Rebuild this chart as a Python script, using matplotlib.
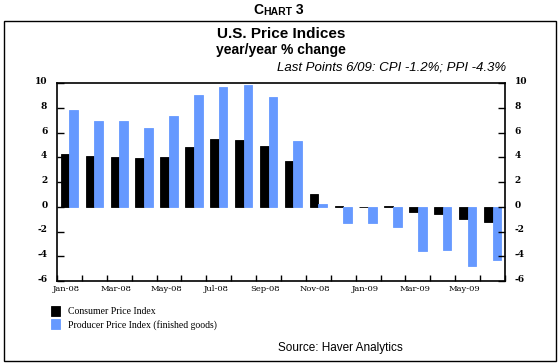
import matplotlib
matplotlib.use("Agg")
import matplotlib.pyplot as plt
import matplotlib.transforms as mtransforms
from matplotlib.patches import Rectangle
import numpy as np

months = ["Jan-08", "Feb-08", "Mar-08", "Apr-08", "May-08", "Jun-08", "Jul-08", "Aug-08",
          "Sep-08", "Oct-08", "Nov-08", "Dec-08", "Jan-09", "Feb-09", "Mar-09", "Apr-09",
          "May-09", "Jun-09"]
cpi = [4.3, 4.1, 4.0, 3.9, 4.0, 4.8, 5.5, 5.4, 4.9, 3.7, 1.0, 0.1, 0.0, 0.1, -0.4, -0.6, -1.0, -1.2]
ppi = [7.8, 6.9, 6.9, 6.4, 7.3, 9.0, 9.7, 9.8, 8.9, 5.3, 0.2, -1.3, -1.3, -1.6, -3.6, -3.5, -4.8, -4.3]
yticks = [-6, -4, -2, 0, 2, 4, 6, 8, 10]
series_names = ["Consumer Price Index", "Producer Price Index (finished goods)"]

W, H = 560, 363
fig = plt.figure(figsize=(W / 100, H / 100), dpi=100)
fig.patch.set_facecolor("white")

def fx(px):
    return px / W

def fy(py):
    return 1 - py / H

# outer box
fig.patches.append(Rectangle((fx(4), fy(361)), fx(556) - fx(4), fy(21) - fy(361),
                             transform=fig.transFigure, fill=False, lw=1.0, ec="black"))

ax = fig.add_axes([fx(57), fy(281), fx(505) - fx(57), fy(83) - fy(281)])

x = np.arange(len(months))
bw = 0.35
blue = "#6699FF"
b1 = ax.bar(x - bw / 2, cpi, bw, color="black", edgecolor="black", linewidth=0.6, label=series_names[0])
b2 = ax.bar(x + bw / 2, ppi, bw, color=blue, edgecolor=blue, linewidth=0.6, label=series_names[1])

ax.set_xlim(-0.5, len(months) - 0.5)
ax.set_ylim(-6, 10)
for s in ax.spines.values():
    s.set_linewidth(1.2)

serif = "DejaVu Serif"
ax.set_yticks(yticks)
ax.set_yticklabels([str(v) for v in yticks], fontsize=6.5, family=serif, fontweight="bold")
ax.tick_params(axis="y", which="both", direction="in", length=5, width=1.0,
               left=True, right=True, labelleft=True, labelright=True, pad=7)

ax.set_xticks(np.arange(-0.5, len(months), 1.0))
ax.set_xticklabels([])
ax.tick_params(axis="x", which="major", direction="in", length=4, width=1.0)
ax.set_xticks(x[::2], [months[i] for i in x[::2]], minor=True)
ax.tick_params(axis="x", which="minor", length=0, pad=3, labelsize=6)
for lab in ax.get_xticklabels(minor=True):
    lab.set_family(serif)
    lab.set_transform(lab.get_transform() + mtransforms.ScaledTranslation(-3 / 100, 0, fig.dpi_scale_trans))
shift_up = mtransforms.ScaledTranslation(0, 2.5 / 100, fig.dpi_scale_trans)
for t in ax.yaxis.get_major_ticks():
    t.label1.set_transform(t.label1.get_transform() + shift_up)
    t.label2.set_transform(t.label2.get_transform() + shift_up)
    t.label2.set_family(serif)
    t.label2.set_fontsize(6.5)
    t.label2.set_fontweight("bold")

sans = "Liberation Sans"
# Chart 3 (small caps)
t1 = fig.text(fx(253), fy(14), "C", fontsize=10, fontweight="bold", family=sans, ha="left", va="baseline")
a1 = ax.annotate("HART", xy=(1, 0), xycoords=t1, fontsize=7.5, fontweight="bold", family=sans,
                 ha="left", va="bottom", annotation_clip=False)
a2 = ax.annotate(" 3", xy=(1, 0), xycoords=a1, fontsize=10, fontweight="bold", family=sans,
                 ha="left", va="bottom", annotation_clip=False)

fig.text(fx(281), fy(34), "U.S. Price Indices", fontsize=11, fontweight="bold", family=sans,
         ha="center", va="center")
fig.text(fx(281), fy(50), "year/year % change", fontsize=10, fontweight="bold", family=sans,
         ha="center", va="center")
fig.text(fx(506), fy(68), "Last Points 6/09: CPI -1.2%; PPI -4.3%", fontsize=9.5, style="italic",
         family=sans, ha="right", va="center")
fig.text(fx(340), fy(348), "Source: Haver Analytics", fontsize=8.5, family=sans,
         ha="center", va="center")

leg = fig.legend(handles=[b1, b2], labels=series_names, loc="upper left",
                 bbox_to_anchor=(fx(51), fy(306)), frameon=False,
                 prop={"family": "Liberation Serif", "size": 7},
                 handlelength=0.95, handleheight=1.2, handletextpad=0.85, labelspacing=0.3,
                 borderaxespad=0, borderpad=0)

fig.savefig("out.png", dpi=100, facecolor="white")
